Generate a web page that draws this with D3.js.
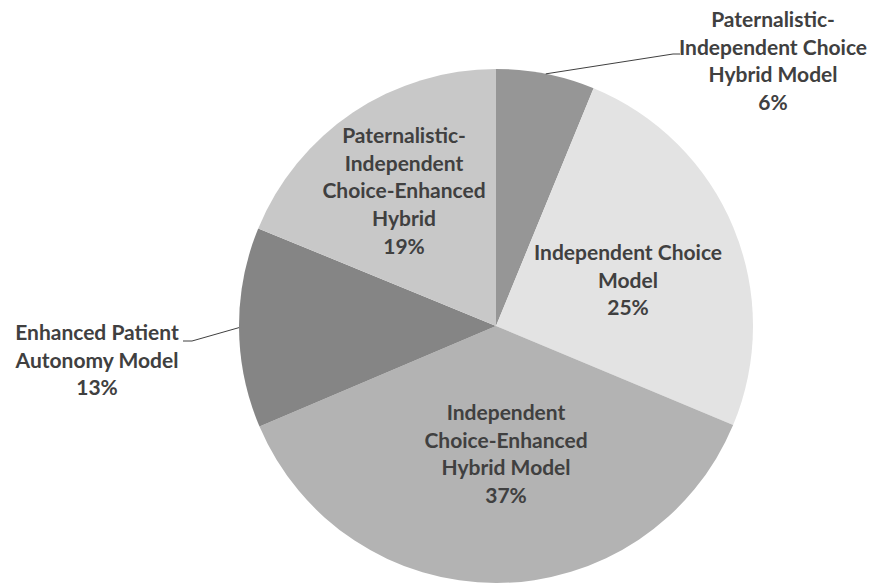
<!DOCTYPE html>
<html>
<head>
<meta charset="utf-8">
<script src="https://cdn.jsdelivr.net/npm/d3@7"></script>
<style>
  body { margin: 0; background: #fff; }
  text { font-family: Lato, "Open Sans", sans-serif; font-weight: bold; }
</style>
</head>
<body>
<div id="chart"></div>
<script>
// data (share of respondents, %)
const models = [
  ["Paternalistic-", "Independent Choice", "Hybrid Model"],
  ["Independent Choice", "Model"],
  ["Independent", "Choice-Enhanced", "Hybrid Model"],
  ["Enhanced Patient", "Autonomy Model"],
  ["Paternalistic-", "Independent", "Choice-Enhanced", "Hybrid"]
];
const shares = [6.2, 25.1, 37.3, 12.6, 18.8];
const fills = ["#969696", "#e3e3e3", "#b3b3b3", "#858585", "#c8c8c8"];

// layout: label block (centre x, first baseline) relative to pie centre
const labelOffset = [[277, -299], [132, -66], [10, 94], [-399, 14], [-92, -183]];
// leader lines for the two outside labels: [end at text, elbow]
const leaders = {0: [[184, -272], [177, -272]], 3: [[-313, 15], [-304, 15]]};

let width = 871, height = 584,
    cx = 496, cy = 326, radius = 257,
    lineH = 27.7;

let svg = d3.select("#chart")
            .append("svg")
            .attr("width", width)
            .attr("height", height);

let g = svg.append("g")
           .attr("transform", "translate(" + cx + "," + cy + ")");

let pie = d3.pie()
            .sort(null)
            .value(function(d) { return d; });

let arcs = pie(shares);

let arc = d3.arc()
            .innerRadius(0)
            .outerRadius(radius);

g.selectAll("path.slice")
 .data(arcs)
 .enter()
 .append("path")
 .attr("class", "slice")
 .attr("d", arc)
 .attr("fill", function(d, i) { return fills[i]; });

// leader lines from the rim at mid-angle
Object.keys(leaders).forEach(function(k) {
    let a = arcs[k];
    let mid = (a.startAngle + a.endAngle) / 2;
    let rim = [radius * Math.sin(mid), -radius * Math.cos(mid)];
    let pts = [rim, leaders[k][1], leaders[k][0]];
    g.append("path")
     .attr("d", d3.line()(pts))
     .attr("fill", "none")
     .attr("stroke", "#404040")
     .attr("stroke-width", 1);
});

// data labels
arcs.forEach(function(d, i) {
    let lines = models[i].concat([Math.round(shares[i]) + "%"]);
    let t = g.append("text")
             .attr("text-anchor", "middle")
             .attr("fill", "#404040")
             .style("font-size", "21px");
    lines.forEach(function(s, j) {
        t.append("tspan")
         .attr("x", labelOffset[i][0])
         .attr("y", labelOffset[i][1] + j * lineH)
         .text(s);
    });
});
</script>
</body>
</html>
